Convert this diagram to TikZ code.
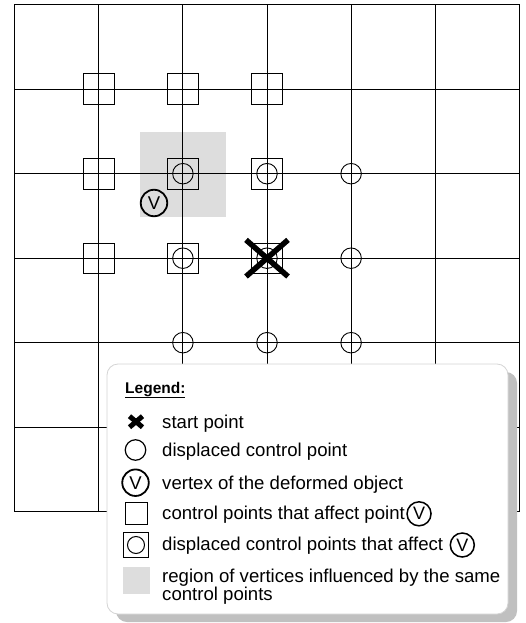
\documentclass[tikz,border=0pt]{standalone}
\usepackage{fontspec}
\setmainfont{Liberation Sans}
\usetikzlibrary{calc}
\definecolor{regiongray}{HTML}{DDDDDD}
\definecolor{shadowgray}{HTML}{C0C0C0}
\definecolor{boxedge}{HTML}{D4D4D4}
\begin{document}
\begin{tikzpicture}[x=1pt,y=-1pt,
  gridline/.style={line width=1pt, draw=black},
  sqmark/.style={draw, rectangle, line width=0.9pt, minimum size=30.5pt, inner sep=0pt},
  cmark/.style={draw, circle, line width=0.9pt, minimum size=20.5pt, inner sep=0pt},
  vmark/.style={draw, circle, line width=1.8pt, minimum size=26.5pt, inner sep=0pt, font=\fontsize{18.5}{18.5}\selectfont},
  vsmall/.style={draw, circle, line width=1.5pt, minimum size=24pt, inner sep=0pt, font=\fontsize{18}{18}\selectfont},
  crossline/.style={line width=5.5pt, line cap=butt},
  legcross/.style={line width=5pt, line cap=butt},
  legtext/.style={anchor=base west, inner sep=0pt, font=\fontsize{18.6}{18}\selectfont},
  legtitle/.style={anchor=base west, inner sep=0pt, font=\fontsize{15.5}{16}\selectfont\bfseries}
]
\useasboundingbox (0,0) rectangle (525,623);
% grid coordinates
\foreach \i in {0,...,6}{
  \foreach \j in {0,...,6}{
    \coordinate (p\i\j) at ({14.7+84.1*\i},{4.7+84.5*\j});
  }
}
% region of vertices influenced by the same control points
\node[fill=regiongray, minimum width=86pt, minimum height=85pt, inner sep=0pt] (region) at (183,174.5) {};
% grid lines
\foreach \i in {1,...,5}{
  \draw[gridline] (p\i0) -- (p\i6);
  \draw[gridline] (p0\i) -- (p6\i);
}
\draw[line width=1.3pt] (p00) rectangle (p66);
% control points that affect V
\foreach \i/\j in {1/1,2/1,3/1,1/2,2/2,3/2,1/3,2/3,3/3}{
  \node[sqmark] (s\i\j) at (p\i\j) {};
}
% displaced control points
\foreach \i/\j in {2/2,3/2,4/2,2/3,3/3,4/3,2/4,3/4,4/4}{
  \node[cmark] (c\i\j) at (p\i\j) {};
}
% vertex of the deformed object
\node[vmark] (vtx) at (154,203) {V};
% start point
\coordinate (xa) at ($(p33)+(-21,-18.3)$);
\coordinate (xb) at ($(p33)+(21,18.3)$);
\coordinate (xc) at ($(p33)+(21,-18.3)$);
\coordinate (xd) at ($(p33)+(-21,18.3)$);
\draw[crossline] (xa) -- (xb);
\draw[crossline] (xc) -- (xd);

% legend box with shadow
\fill[shadowgray, rounded corners=11pt] (116,372) rectangle (517,622);
\node[draw=boxedge, fill=white, rounded corners=11pt, line width=0.8pt, minimum width=401pt, minimum height=250pt, inner sep=0pt] (legend) at (307.5,489) {};

\node[legtitle] (ltitle) at (125,393) {\underline{Legend:}};
% row 1: start point
\coordinate (lx) at (136,421.7);
\coordinate (lxa) at ($(lx)+(-6.5,-5.5)$);
\coordinate (lxb) at ($(lx)+(6.5,5.5)$);
\coordinate (lxc) at ($(lx)+(6.5,-5.5)$);
\coordinate (lxd) at ($(lx)+(-6.5,5.5)$);
\draw[legcross] (lxa) -- (lxb);
\draw[legcross] (lxc) -- (lxd);
\node[legtext] (t1) at (162,428.3) {start point};
% row 2
\node[cmark, line width=1.2pt] (lc) at (135.5,450) {};
\node[legtext] (t2) at (162,456.7) {displaced control point};
% row 3
\node[vmark] (lv) at (135.5,482.7) {V};
\node[legtext] (t3) at (162,489.3) {vertex of the deformed object};
% row 4
\node[draw, rectangle, line width=1pt, minimum size=22pt, inner sep=0pt] (lsq) at (136,513.5) {};
\node[legtext] (t4) at (162,519.3) {control points that affect point};
\node[vsmall] (v4) at ($(t4.base east)+(14,-5.5)$) {V};
% row 5
\node[draw, rectangle, line width=1pt, minimum size=25pt, inner sep=0pt] (lsq2) at (136,545) {};
\node[draw, circle, line width=1pt, minimum size=17pt, inner sep=0pt] (lc2) at (136,545) {};
\node[legtext] (t5) at (162,550.7) {displaced control points that affect};
\node[vsmall] (v5) at ($(t5.base east)+(19,-5.7)$) {V};
% row 6
\node[fill=regiongray, minimum size=27pt, inner sep=0pt] (lreg) at (136.3,580.5) {};
\node[legtext] (t6) at (162,582.7) {region of vertices influenced by the same};
\node[legtext] (t6b) at (162,600.7) {control points};
\end{tikzpicture}
\end{document}
